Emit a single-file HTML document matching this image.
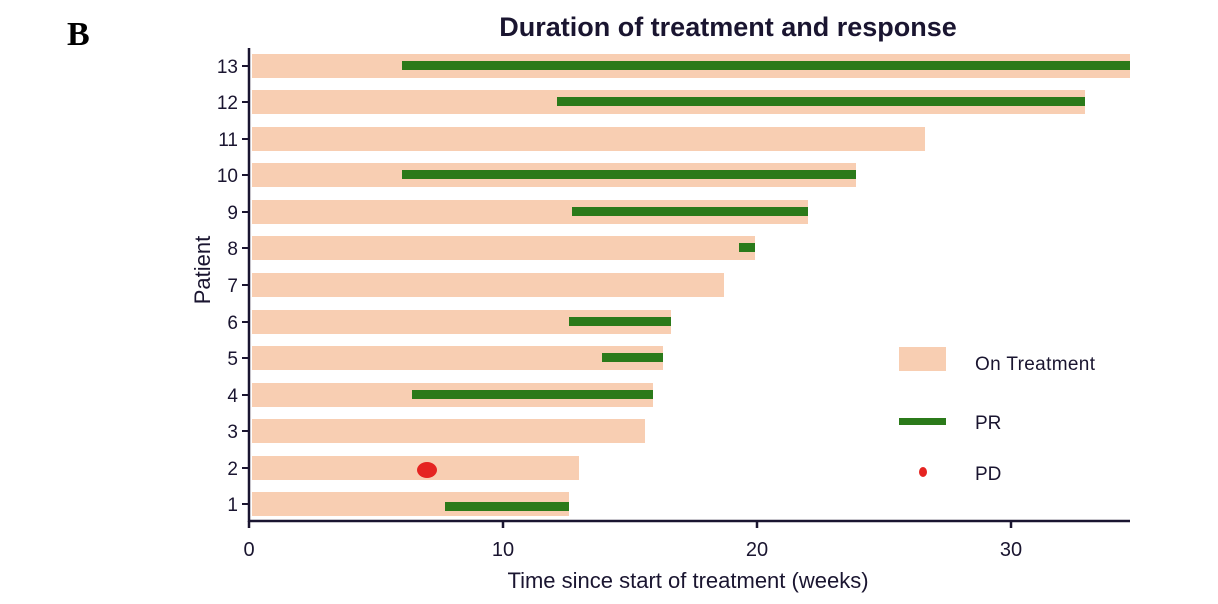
<!DOCTYPE html>
<html><head><meta charset="utf-8"><style>
body{margin:0;background:#fff}
svg{display:block}
text{font-family:"Liberation Sans",sans-serif;fill:#1a1530}
</style></head><body>
<svg width="1218" height="604" xmlns="http://www.w3.org/2000/svg">
<text x="67" y="45" style="font-family:'Liberation Serif',serif;font-weight:bold;font-size:34px;fill:#000">B</text>
<text x="728" y="36" text-anchor="middle" font-size="27" font-weight="bold">Duration of treatment and response</text>
<g fill="#f8ceb2">
<rect x="252" y="54" width="878" height="24"/>
<rect x="252" y="90" width="833" height="24"/>
<rect x="252" y="127" width="673" height="24"/>
<rect x="252" y="163" width="604" height="24"/>
<rect x="252" y="200" width="556" height="24"/>
<rect x="252" y="236" width="503" height="24"/>
<rect x="252" y="273" width="472" height="24"/>
<rect x="252" y="310" width="419" height="24"/>
<rect x="252" y="346" width="411" height="24"/>
<rect x="252" y="383" width="401" height="24"/>
<rect x="252" y="419" width="393" height="24"/>
<rect x="252" y="456" width="327" height="24"/>
<rect x="252" y="492" width="317" height="24"/>
</g>
<g fill="#2b7a1a">
<rect x="402" y="61" width="728" height="9"/>
<rect x="557" y="97" width="528" height="9"/>
<rect x="402" y="170" width="454" height="9"/>
<rect x="572" y="207" width="236" height="9"/>
<rect x="739" y="243" width="16" height="9"/>
<rect x="569" y="317" width="102" height="9"/>
<rect x="602" y="353" width="61" height="9"/>
<rect x="412" y="390" width="241" height="9"/>
<rect x="445" y="502" width="124" height="9"/>
</g>
<ellipse cx="427" cy="470" rx="10" ry="8" fill="#e52421"/>
<g stroke="#1a1530" stroke-width="2.5">
<line x1="249" y1="48" x2="249" y2="522"/>
<line x1="248" y1="521" x2="1130" y2="521"/>
<line x1="249" y1="521" x2="249" y2="528"/>
<line x1="503" y1="521" x2="503" y2="528"/>
<line x1="757" y1="521" x2="757" y2="528"/>
<line x1="1011" y1="521" x2="1011" y2="528"/>
</g>
<g stroke="#1a1530" stroke-width="2">
<line x1="242" y1="66" x2="249" y2="66"/><line x1="242" y1="102" x2="249" y2="102"/>
<line x1="242" y1="139" x2="249" y2="139"/><line x1="242" y1="175" x2="249" y2="175"/>
<line x1="242" y1="212" x2="249" y2="212"/><line x1="242" y1="248" x2="249" y2="248"/>
<line x1="242" y1="285" x2="249" y2="285"/><line x1="242" y1="322" x2="249" y2="322"/>
<line x1="242" y1="358" x2="249" y2="358"/><line x1="242" y1="395" x2="249" y2="395"/>
<line x1="242" y1="431" x2="249" y2="431"/><line x1="242" y1="468" x2="249" y2="468"/>
<line x1="242" y1="504" x2="249" y2="504"/>
</g>
<g font-size="19" text-anchor="end">
<text x="238" y="73">13</text><text x="238" y="109">12</text><text x="238" y="146">11</text>
<text x="238" y="182">10</text><text x="238" y="219">9</text><text x="238" y="255">8</text>
<text x="238" y="292">7</text><text x="238" y="329">6</text><text x="238" y="365">5</text>
<text x="238" y="402">4</text><text x="238" y="438">3</text><text x="238" y="475">2</text>
<text x="238" y="511">1</text>
</g>
<g font-size="20" text-anchor="middle">
<text x="249" y="556">0</text><text x="503" y="556">10</text><text x="757" y="556">20</text><text x="1011" y="556">30</text>
</g>
<text x="688" y="588" font-size="22" text-anchor="middle">Time since start of treatment (weeks)</text>
<text transform="translate(210,270) rotate(-90)" font-size="22" text-anchor="middle">Patient</text>
<rect x="899" y="347" width="47" height="24" fill="#f8ceb2"/>
<rect x="899" y="418" width="47" height="7" fill="#2b7a1a"/>
<ellipse cx="923" cy="472" rx="4" ry="5" fill="#e52421"/>
<g font-size="19">
<text x="975" y="370" textLength="120">On Treatment</text>
<text x="975" y="429">PR</text>
<text x="975" y="480">PD</text>
</g>
</svg>
</body></html>
